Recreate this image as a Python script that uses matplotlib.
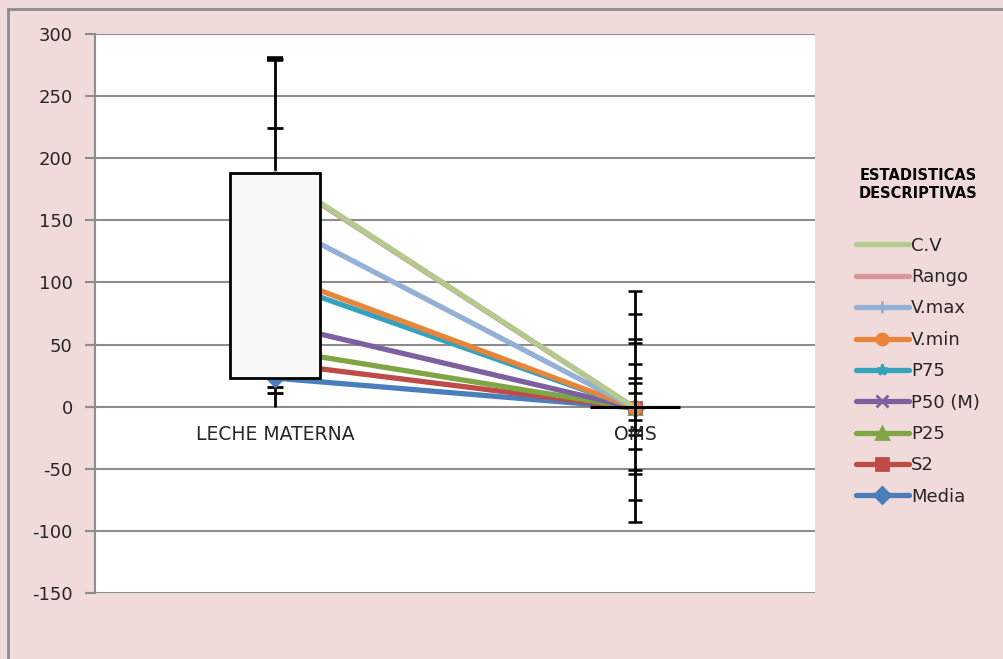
import matplotlib.pyplot as plt
from matplotlib.patches import Rectangle

plt.rcParams['axes.unicode_minus'] = False

# Datos
categorias = ['LECHE MATERNA', 'OMS']
series = ['Media', 'S2', 'P25', 'P50 (M)', 'P75', 'V.min', 'V.max', 'Rango', 'C.V']
leche = [23, 35, 46, 67, 101, 107, 150, 187, 188]
oms = [-1, -1, -1, -1, -1, -1, -1, -1, -1]

colores = ['#4A7EBB', '#BE4B48', '#7FA545', '#7D60A0', '#35A2BD', '#E7853B', '#93B1D6', '#D99694', '#B2CA8E']
marcadores = ['D', 's', '^', 'x', '*', 'o', '+', None, None]

# Caja y barras de error
caja_inf, caja_sup = 23, 188
leche_bigote = [0, 280]
leche_marcas = [280, 224, 16, 11]
oms_bigote = [-93, 93]
oms_marcas = [93, 75, 54.5, 51, 34, 23, 19, 11, -11, -19, -23, -34, -51, -54.5, -75, -93]

fondo = '#F0DBDA'
gris = '#8C8C8C'

fig = plt.figure(figsize=(10.04, 6.59), dpi=100, facecolor=fondo)
ax = fig.add_axes([95 / 1004, 66 / 659, 720 / 1004, 559 / 659])
ax.set_facecolor('white')

# marco de la figura
fig.patches.append(Rectangle((8 / 1004, -0.05), 1.1, 1.05 - 9 / 659, transform=fig.transFigure,
                             fill=False, edgecolor=gris, linewidth=2))

x = range(len(categorias))
for nombre, a, b, c, m in zip(series, leche, oms, colores, marcadores):
    ax.plot(x, [a, b], color=c, lw=3.8, marker=m, markersize=8, markeredgewidth=2,
            label=nombre, zorder=3, solid_capstyle='round')

# barras de error LECHE MATERNA (detras de la caja)
ax.vlines(0, leche_bigote[0], leche_bigote[1], color='black', lw=2, zorder=2)
ax.plot([0] * len(leche_marcas), leche_marcas, ls='none', marker='_', markersize=11,
        markeredgewidth=2, color='black', zorder=2)
ax.plot([0], [leche_marcas[0]], ls='none', marker='_', markersize=11, markeredgewidth=4,
        color='black', zorder=2)

# caja
ax.bar(0, caja_sup - caja_inf, bottom=caja_inf, width=0.25, color='#F8F8F8',
       edgecolor='black', linewidth=2, zorder=4)

# barras de error OMS
ax.vlines(1, oms_bigote[0], oms_bigote[1], color='black', lw=2, zorder=5)
ax.plot([1] * len(oms_marcas), oms_marcas, ls='none', marker='_', markersize=10,
        markeredgewidth=1.8, color='black', zorder=5)
ax.hlines(0, 1 - 0.124, 1 + 0.124, color='black', lw=2.2, zorder=5)

ax.set_xlim(-0.5, 1.5)
ax.set_ylim(-150, 300)
ax.set_yticks(range(-150, 301, 50))
ax.set_xticks([])
ax.yaxis.grid(True, color=gris, lw=1.5)
ax.set_axisbelow(True)
for s in ['top', 'right', 'bottom']:
    ax.spines[s].set_visible(False)
ax.spines['left'].set_color(gris)
ax.spines['left'].set_linewidth(1.5)
ax.tick_params(axis='y', length=7, width=1.5, color=gris, labelsize=13, labelcolor='#262626', pad=9)

for i, cat in enumerate(categorias):
    ax.annotate(cat, (i, 0), xytext=(0, -28), textcoords='offset pixels', ha='center',
                va='center', fontsize=13.5, color='#262626', zorder=6)

h, l = ax.get_legend_handles_labels()
leg = fig.legend(h[::-1], l[::-1], loc='upper left', bbox_to_anchor=(840 / 1004, 1 - 152 / 659),
                 frameon=False, fontsize=13, handlelength=2.9, handletextpad=0.15,
                 labelspacing=0.74, title='ESTADISTICAS\nDESCRIPTIVAS',
                 title_fontproperties={'weight': 'bold', 'size': 10.5})
leg.get_title().set_multialignment('center')
leg._legend_box.sep = 26
for t in leg.get_texts():
    t.set_color('#262626')

plt.savefig('out.png', dpi=100, facecolor=fondo)
